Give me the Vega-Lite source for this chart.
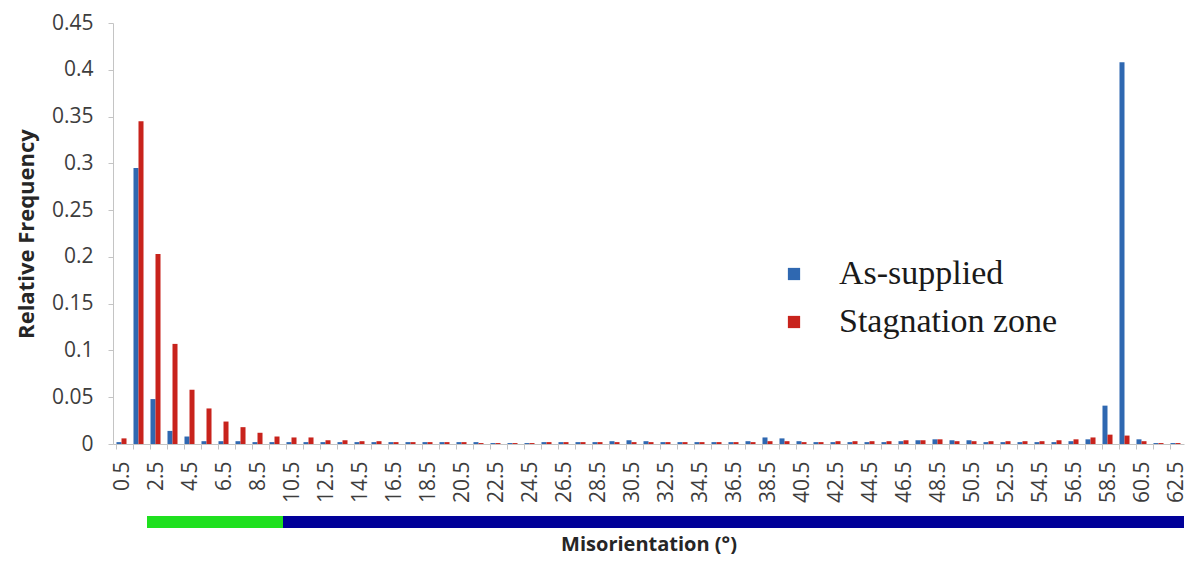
{
  "$schema": "https://vega.github.io/schema/vega-lite/v6.json",
  "background": "white",
  "padding": {"left": 15, "top": 12, "right": 0, "bottom": 0},
  "config": {
    "view": {"stroke": null},
    "font": "Open Sans",
    "axis": {"grid": false, "domainColor": "#c4c4c4", "tickColor": "#c4c4c4", "labelColor": "#3d3d3d", "titleColor": "#262626"}
  },
  "spacing": 13,
  "vconcat": [
    {
      "width": 1071,
      "height": 421,
      "data": {
        "values": [
          {"angle": "0.5", "As-supplied": 0.002, "Stagnation zone": 0.006},
          {"angle": "1.5", "As-supplied": 0.295, "Stagnation zone": 0.345},
          {"angle": "2.5", "As-supplied": 0.048, "Stagnation zone": 0.203},
          {"angle": "3.5", "As-supplied": 0.014, "Stagnation zone": 0.107},
          {"angle": "4.5", "As-supplied": 0.008, "Stagnation zone": 0.058},
          {"angle": "5.5", "As-supplied": 0.003, "Stagnation zone": 0.038},
          {"angle": "6.5", "As-supplied": 0.003, "Stagnation zone": 0.024},
          {"angle": "7.5", "As-supplied": 0.003, "Stagnation zone": 0.018},
          {"angle": "8.5", "As-supplied": 0.002, "Stagnation zone": 0.012},
          {"angle": "9.5", "As-supplied": 0.002, "Stagnation zone": 0.008},
          {"angle": "10.5", "As-supplied": 0.002, "Stagnation zone": 0.007},
          {"angle": "11.5", "As-supplied": 0.002, "Stagnation zone": 0.007},
          {"angle": "12.5", "As-supplied": 0.002, "Stagnation zone": 0.004},
          {"angle": "13.5", "As-supplied": 0.002, "Stagnation zone": 0.004},
          {"angle": "14.5", "As-supplied": 0.002, "Stagnation zone": 0.003},
          {"angle": "15.5", "As-supplied": 0.002, "Stagnation zone": 0.003},
          {"angle": "16.5", "As-supplied": 0.002, "Stagnation zone": 0.002},
          {"angle": "17.5", "As-supplied": 0.002, "Stagnation zone": 0.002},
          {"angle": "18.5", "As-supplied": 0.002, "Stagnation zone": 0.002},
          {"angle": "19.5", "As-supplied": 0.002, "Stagnation zone": 0.002},
          {"angle": "20.5", "As-supplied": 0.002, "Stagnation zone": 0.002},
          {"angle": "21.5", "As-supplied": 0.002, "Stagnation zone": 0.001},
          {"angle": "22.5", "As-supplied": 0.001, "Stagnation zone": 0.001},
          {"angle": "23.5", "As-supplied": 0.001, "Stagnation zone": 0.001},
          {"angle": "24.5", "As-supplied": 0.001, "Stagnation zone": 0.001},
          {"angle": "25.5", "As-supplied": 0.002, "Stagnation zone": 0.002},
          {"angle": "26.5", "As-supplied": 0.002, "Stagnation zone": 0.002},
          {"angle": "27.5", "As-supplied": 0.002, "Stagnation zone": 0.002},
          {"angle": "28.5", "As-supplied": 0.002, "Stagnation zone": 0.002},
          {"angle": "29.5", "As-supplied": 0.003, "Stagnation zone": 0.002},
          {"angle": "30.5", "As-supplied": 0.004, "Stagnation zone": 0.002},
          {"angle": "31.5", "As-supplied": 0.003, "Stagnation zone": 0.002},
          {"angle": "32.5", "As-supplied": 0.002, "Stagnation zone": 0.002},
          {"angle": "33.5", "As-supplied": 0.002, "Stagnation zone": 0.002},
          {"angle": "34.5", "As-supplied": 0.002, "Stagnation zone": 0.002},
          {"angle": "35.5", "As-supplied": 0.002, "Stagnation zone": 0.002},
          {"angle": "36.5", "As-supplied": 0.002, "Stagnation zone": 0.002},
          {"angle": "37.5", "As-supplied": 0.003, "Stagnation zone": 0.002},
          {"angle": "38.5", "As-supplied": 0.007, "Stagnation zone": 0.003},
          {"angle": "39.5", "As-supplied": 0.006, "Stagnation zone": 0.003},
          {"angle": "40.5", "As-supplied": 0.003, "Stagnation zone": 0.002},
          {"angle": "41.5", "As-supplied": 0.002, "Stagnation zone": 0.002},
          {"angle": "42.5", "As-supplied": 0.002, "Stagnation zone": 0.003},
          {"angle": "43.5", "As-supplied": 0.002, "Stagnation zone": 0.003},
          {"angle": "44.5", "As-supplied": 0.002, "Stagnation zone": 0.003},
          {"angle": "45.5", "As-supplied": 0.002, "Stagnation zone": 0.003},
          {"angle": "46.5", "As-supplied": 0.003, "Stagnation zone": 0.004},
          {"angle": "47.5", "As-supplied": 0.004, "Stagnation zone": 0.004},
          {"angle": "48.5", "As-supplied": 0.005, "Stagnation zone": 0.005},
          {"angle": "49.5", "As-supplied": 0.004, "Stagnation zone": 0.003},
          {"angle": "50.5", "As-supplied": 0.004, "Stagnation zone": 0.003},
          {"angle": "51.5", "As-supplied": 0.002, "Stagnation zone": 0.003},
          {"angle": "52.5", "As-supplied": 0.002, "Stagnation zone": 0.003},
          {"angle": "53.5", "As-supplied": 0.002, "Stagnation zone": 0.003},
          {"angle": "54.5", "As-supplied": 0.002, "Stagnation zone": 0.003},
          {"angle": "55.5", "As-supplied": 0.002, "Stagnation zone": 0.004},
          {"angle": "56.5", "As-supplied": 0.003, "Stagnation zone": 0.005},
          {"angle": "57.5", "As-supplied": 0.005, "Stagnation zone": 0.007},
          {"angle": "58.5", "As-supplied": 0.041, "Stagnation zone": 0.010},
          {"angle": "59.5", "As-supplied": 0.408, "Stagnation zone": 0.009},
          {"angle": "60.5", "As-supplied": 0.005, "Stagnation zone": 0.003},
          {"angle": "61.5", "As-supplied": 0.001, "Stagnation zone": 0.001},
          {"angle": "62.5", "As-supplied": 0.001, "Stagnation zone": 0.001}
        ]
      },
      "transform": [
        {"fold": ["As-supplied", "Stagnation zone"], "as": ["sample", "freq"]}
      ],
      "mark": {"type": "bar"},
      "encoding": {
        "x": {
          "field": "angle",
          "type": "nominal",
          "sort": null,
          "scale": {"paddingInner": 0.41, "paddingOuter": 0.205},
          "axis": {
            "title": null,
            "bandPosition": 0,
            "labelOffset": 1,
            "labelAngle": -90,
            "labelFontSize": 21,
            "labelPadding": 12,
            "tickSize": 5,
            "labelExpr": "floor(toNumber(datum.value)) % 2 == 0 ? datum.value : ''"
          }
        },
        "xOffset": {
          "field": "sample",
          "type": "nominal",
          "sort": ["As-supplied", "Stagnation zone"],
          "scale": {"paddingInner": 0, "paddingOuter": 0}
        },
        "y": {
          "field": "freq",
          "type": "quantitative",
          "scale": {"domain": [0, 0.45], "nice": false},
          "axis": {
            "title": "Relative Frequency",
            "titleFontSize": 22,
            "titleFontWeight": "bold",
            "titlePadding": 13,
            "values": [0, 0.05, 0.1, 0.15, 0.2, 0.25, 0.3, 0.35, 0.4, 0.45],
            "format": "~g",
            "labelFontSize": 21,
            "labelPadding": 15,
            "tickSize": 5
          }
        },
        "color": {
          "field": "sample",
          "type": "nominal",
          "scale": {"domain": ["As-supplied", "Stagnation zone"], "range": ["#2f68b1", "#c8231c"]},
          "legend": {
            "orient": "none",
            "legendX": 664,
            "legendY": 234,
            "title": null,
            "padding": 0,
            "labelFont": "Liberation Serif",
            "labelFontSize": 34,
            "labelLimit": 500,
            "labelColor": "#1a1a1a",
            "symbolType": "square",
            "symbolSize": 150,
            "labelOffset": 28,
            "rowPadding": 14
          }
        }
      }
    },
    {
      "width": 1071,
      "height": 12,
      "data": {
        "values": [
          {"band": "LAGB", "from": 2, "to": 10},
          {"band": "HAGB", "from": 10, "to": 63}
        ]
      },
      "mark": {"type": "rect"},
      "encoding": {
        "x": {
          "field": "from",
          "type": "quantitative",
          "scale": {"domain": [0, 63], "nice": false, "zero": false},
          "axis": {
            "title": "Misorientation (°)",
            "titleFontSize": 20,
            "titleFontWeight": "bold",
            "titlePadding": 6,
            "labels": false,
            "ticks": false,
            "domain": false
          }
        },
        "x2": {"field": "to"},
        "color": {
          "field": "band",
          "type": "nominal",
          "scale": {"domain": ["LAGB", "HAGB"], "range": ["#1fe01f", "#000099"]},
          "legend": null
        }
      }
    }
  ],
  "resolve": {"scale": {"color": "independent", "x": "independent"}}
}
